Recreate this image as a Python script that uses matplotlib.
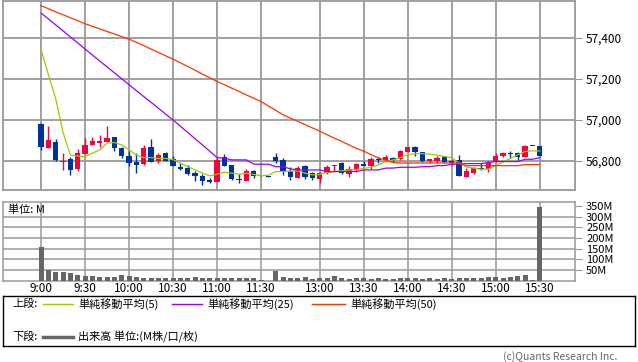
import matplotlib
matplotlib.use('Agg')
import matplotlib.pyplot as plt
import numpy as np

plt.rcParams['font.family'] = ['Noto Sans CJK JP', 'DejaVu Sans']

# 5分足 (idx 0 = 9:00)
opens = [56981, 56865, 56893, 56795, 56808, 56761, 56834, 56880, 56889, 56894,
         56917, 56865, 56824, 56793, 56784, 56868, 56800, 56837, 56807, 56772,
         56767, 56743, 56727, 56709, 56699, 56821, 56780, 56713, 56704, 56751,
         56732, 56728, 56820, 56805, 56751, 56719, 56776, 56740, 56714, 56740,
         56774, 56790, 56736, 56754, 56786, 56776, 56811, 56806, 56815, 56807,
         56845, 56870, 56844, 56800, 56800, 56820, 56800, 56805, 56723, 56743,
         56764, 56761, 56797, 56824, 56839, 56839, 56821, 56873, 56873]
highs = [56983, 56971, 56906, 56838, 56821, 56858, 56914, 56919, 56927, 56971,
         56919, 56870, 56849, 56839, 56878, 56905, 56841, 56845, 56824, 56792,
         56780, 56751, 56738, 56717, 56813, 56833, 56782, 56734, 56761, 56756,
         56732, 56728, 56839, 56813, 56771, 56776, 56780, 56748, 56748, 56780,
         56780, 56797, 56776, 56792, 56800, 56821, 56818, 56829, 56821, 56854,
         56870, 56873, 56845, 56811, 56824, 56824, 56805, 56829, 56763, 56772,
         56789, 56800, 56838, 56845, 56849, 56844, 56878, 56873, 56873]
lows = [56854, 56863, 56800, 56756, 56733, 56751, 56832, 56878, 56870, 56892,
        56850, 56813, 56777, 56739, 56782, 56793, 56792, 56798, 56775, 56757,
        56729, 56702, 56680, 56690, 56697, 56774, 56707, 56691, 56702, 56717,
        56724, 56723, 56792, 56732, 56705, 56717, 56712, 56707, 56691, 56738,
        56751, 56734, 56723, 56748, 56775, 56762, 56789, 56797, 56797, 56805,
        56843, 56824, 56795, 56788, 56792, 56789, 56780, 56725, 56721, 56738,
        56756, 56748, 56795, 56820, 56813, 56805, 56819, 56872, 56826]
closes = [56870, 56903, 56805, 56798, 56756, 56839, 56878, 56898, 56898, 56914,
          56865, 56824, 56792, 56782, 56863, 56795, 56829, 56800, 56777, 56759,
          56736, 56728, 56704, 56699, 56803, 56776, 56714, 56705, 56753, 56724,
          56725, 56723, 56800, 56745, 56720, 56764, 56722, 56715, 56740, 56772,
          56780, 56740, 56761, 56785, 56777, 56810, 56805, 56820, 56805, 56849,
          56867, 56842, 56800, 56808, 56815, 56797, 56789, 56728, 56751, 56767,
          56759, 56794, 56824, 56841, 56833, 56821, 56873, 56872, 56826]

ma5 = [57343, 57220, 57102, 56937, 56828, 56824, 56821, 56838, 56854, 56887,
       56890, 56878, 56854, 56829, 56816, 56816, 56812, 56812, 56806, 56789,
       56772, 56756, 56740, 56727, 56736, 56745, 56740, 56735, 56740, 56734,
       56728, 56730, 56748, 56748, 56750, 56752, 56740, 56732, 56734, 56744,
       56748, 56752, 56756, 56758, 56764, 56768, 56780, 56797, 56805, 56816,
       56830, 56836, 56836, 56833, 56828, 56822, 56815, 56790, 56770, 56765,
       56759, 56760, 56778, 56795, 56812, 56830, 56846, 56849, 56849]
ma25 = [57522, 57493, 57464, 57435, 57405, 57376, 57346, 57317, 57288, 57259,
        57230, 57201, 57172, 57143, 57114, 57086, 57057, 57028, 57000, 56969,
        56939, 56908, 56878, 56847, 56816, 56813, 56805, 56805, 56805, 56784,
        56784, 56784, 56772, 56772, 56761, 56756, 56756, 56756, 56756, 56748,
        56748, 56748, 56748, 56748, 56756, 56756, 56756, 56765, 56765, 56769,
        56769, 56769, 56772, 56772, 56777, 56777, 56784, 56784, 56787, 56787,
        56787, 56792, 56797, 56797, 56797, 56797, 56808, 56808, 56816]
ma50 = [57558, 57543, 57528, 57514, 57499, 57485, 57470, 57457, 57445, 57432,
        57420, 57407, 57395, 57379, 57363, 57346, 57330, 57313, 57297, 57279,
        57261, 57243, 57224, 57206, 57188, 57172, 57155, 57139, 57122, 57106,
        57090, 57068, 57047, 57025, 57009, 56993, 56977, 56961, 56945, 56928,
        56911, 56895, 56878, 56861, 56848, 56830, 56815, 56803, 56792, 56790,
        56790, 56790, 56790, 56790, 56790, 56790, 56790, 56790, 56777, 56777,
        56777, 56777, 56777, 56777, 56777, 56777, 56782, 56782, 56782]

# 出来高 (M)
volume = [160, 50, 42, 42, 37, 26, 21, 21, 17, 17, 17, 26, 21, 17, 12, 12, 12,
          12, 12, 12, 12, 17, 12, 12, 12, 12, 12, 12, 12, 12, 1, 0, 46, 17, 12,
          12, 16, 7, 12, 12, 21, 12, 7, 12, 12, 7, 12, 7, 7, 12, 12, 12, 7, 12,
          7, 12, 7, 12, 12, 12, 12, 16, 16, 12, 16, 21, 26, 1, 347]

tick_pos = [0, 6, 12, 18, 24, 30, 38, 44, 50, 56, 62, 68]
tick_labels = ['9:00', '9:30', '10:00', '10:30', '11:00', '11:30',
               '13:00', '13:30', '14:00', '14:30', '15:00', '15:30']
price_ticks = [56800, 57000, 57200, 57400]
vol_ticks = [50, 100, 150, 200, 250, 300, 350]

RED = '#f5003d'
BLUE = '#003399'
GRID = '#999999'

dpi = 100
fig = plt.figure(figsize=(638 / dpi, 362 / dpi), dpi=dpi)

x = np.arange(len(opens))
o = np.array(opens)
c = np.array(closes)
up = c >= o
cols = np.where(up, RED, BLUE)

# ---- 上段
ax = fig.add_axes([3 / 638, 1 - 190 / 362, 572 / 638, 189 / 362])
ax.set_xlim(-5.2, 72.8)
ax.set_ylim(56658, 57581)
for p in price_ticks:
    ax.axhline(p, color=GRID, lw=1.3, zorder=1)
for t in tick_pos:
    ax.axvline(t, color=GRID, lw=1.3, zorder=1)

ax.vlines(x, lows, highs, colors=cols, lw=1, zorder=3)
body_lo = np.minimum(o, c)
body_h = np.maximum(np.abs(c - o), 5)
ax.bar(x, body_h, bottom=body_lo, width=0.72, color=cols, zorder=4)

ax.plot(x, ma5, color='#99cc00', lw=0.9, zorder=5)
ax.plot(x, ma25, color='#9900ff', lw=0.9, zorder=5)
ax.plot(x, ma50, color='#ff3300', lw=0.9, zorder=5)

ax.set_xticks([])
ax.yaxis.tick_right()
ax.set_yticks(price_ticks)
ax.set_yticklabels([f'{p:,}' for p in price_ticks])
ax.tick_params(axis='y', length=5, color=GRID, labelsize=8.5, pad=3)
for s in ax.spines.values():
    s.set_color(GRID)
    s.set_linewidth(1.3)

# ---- 下段
ax2 = fig.add_axes([3 / 638, 1 - 280.5 / 362, 572 / 638, 78.5 / 362])
ax2.set_xlim(-5.2, 72.8)
ax2.set_ylim(0, 370)
for v in vol_ticks[:-1]:
    ax2.axhline(v, color=GRID, lw=1.1, zorder=1)
for t in tick_pos:
    ax2.axvline(t, color=GRID, lw=1.1, zorder=1)
ax2.bar(x, volume, width=0.68, color='#666666', zorder=3)
ax2.yaxis.tick_right()
ax2.set_yticks(vol_ticks)
ax2.set_yticklabels([f'{v}M' for v in vol_ticks])
ax2.tick_params(axis='y', length=5, color=GRID, labelsize=8, pad=3)
ax2.set_xticks(tick_pos)
ax2.set_xticklabels(tick_labels)
ax2.tick_params(axis='x', length=0, labelsize=8.5, pad=1)
for s in ax2.spines.values():
    s.set_color(GRID)
    s.set_linewidth(1.1)
ax2.text(0.008, 0.9, '単位: M', transform=ax2.transAxes, fontsize=8,
         va='center', ha='left')

# ---- 凡例
lg = fig.add_axes([3 / 638, 1 - 346 / 362, 632 / 638, 50 / 362])
lg.set_xlim(0, 632)
lg.set_ylim(50, 0)
lg.set_xticks([])
lg.set_yticks([])
for s in lg.spines.values():
    s.set_color('black')
    s.set_linewidth(1)
fs = 8
lg.text(9, 8, '上段:', fontsize=fs, va='center')
lg.plot([40, 70], [8, 8], color='#99cc00', lw=1)
lg.text(75, 8, '単純移動平均(5)', fontsize=fs, va='center')
lg.plot([169, 199], [8, 8], color='#9900ff', lw=1)
lg.text(204, 8, '単純移動平均(25)', fontsize=fs, va='center')
lg.plot([309, 342], [8, 8], color='#ff3300', lw=1)
lg.text(347, 8, '単純移動平均(50)', fontsize=fs, va='center')
lg.text(9, 41, '下段:', fontsize=fs, va='center')
lg.plot([40, 70], [41, 41], color='#666666', lw=2.5)
lg.text(75, 41, '出来高 単位:(M株/口/枚)', fontsize=fs, va='center')

fig.text(617 / 638, 1 - 357 / 362, '(c)Quants Research Inc.', fontsize=7.5,
         color='#666666', ha='right', va='center')

fig.savefig('out.png', dpi=dpi)
